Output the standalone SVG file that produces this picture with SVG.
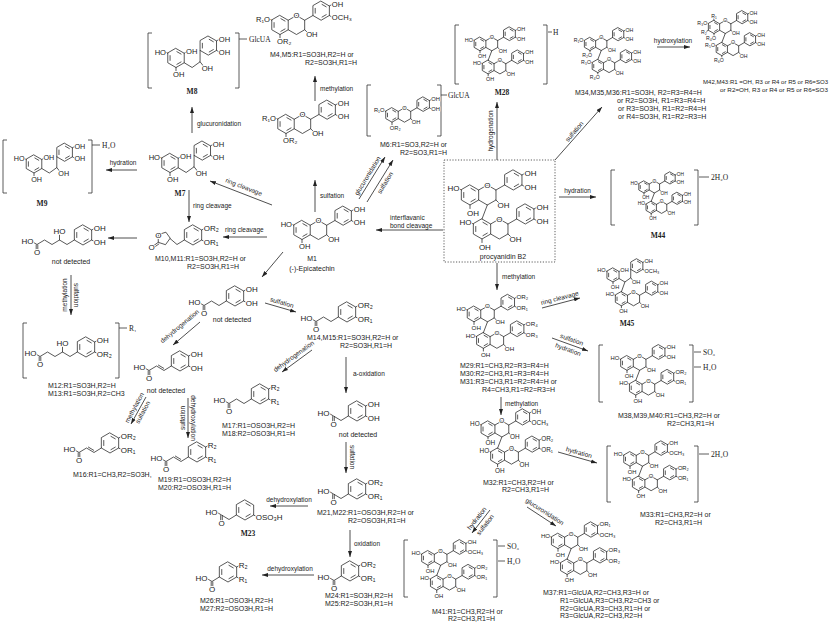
<svg xmlns="http://www.w3.org/2000/svg" width="839" height="624" viewBox="0 0 839 624">
<defs>
<style>
.b{fill:none;stroke:#222;stroke-width:0.75;vector-effect:non-scaling-stroke;stroke-linecap:round;stroke-linejoin:round}
.a{font-family:"Liberation Sans","DejaVu Sans",Arial,sans-serif;font-size:8px;fill:#222;paint-order:stroke;stroke:#fff;stroke-width:2px;stroke-linejoin:round}
.l{font-family:"Liberation Sans","DejaVu Sans",Arial,sans-serif;font-size:7px;fill:#222}
.r{font-family:"Liberation Sans","DejaVu Sans",Arial,sans-serif;font-size:6.5px;fill:#222}
.id{font-family:"Liberation Serif","DejaVu Serif",serif;font-size:7.5px;font-weight:bold;fill:#222}
.s{font-family:"Liberation Serif","DejaVu Serif",serif;font-size:7.5px;fill:#222}
.c{fill:none;stroke:#222;stroke-width:0.8;marker-end:url(#ah)}
.k{fill:none;stroke:#333;stroke-width:0.8}
</style>
<marker id="ah" viewBox="0 0 8 6" refX="8" refY="3" markerWidth="6" markerHeight="4.5" orient="auto" markerUnits="userSpaceOnUse"><path d="M0,0.3L8,3L0,5.7Z" fill="#222"/></marker>
<g id="bz"><path class="b" d="M0,-10L8.66,-5L8.66,5L0,10L-8.66,5L-8.66,-5Z M0.94,-6.66L5.3,-4.14 M5.3,4.14L0.94,6.66 M-6.24,2.52L-6.24,-2.52"/></g>
<g id="fl"><use href="#bz"/><use href="#bz" x="43.3" y="-15"/><path class="b" d="M8.66,-5L17.32,-10L25.98,-5L25.98,5L17.32,10L8.66,5 M25.98,-5L34.64,-10 M51.96,-20L55,-21.8 M51.96,-10L55,-8.2 M25.98,5L29,8 M0,10L0,13.5 M-8.66,-5L-11.5,-6.7"/></g>
<g id="dm"><use href="#fl"/><use href="#fl" x="12" y="34"/><path class="b" d="M17.32,10L12,24"/></g>
<g id="ro"><use href="#bz"/><use href="#bz" x="34" y="-13"/><path class="b" d="M8.66,5L17,10L25.34,4L25.34,-8 M25.34,4L28.5,8 M8.66,-5L11.5,-6.7 M0,10L0,13.5 M-8.66,-5L-11.5,-6.7 M42.66,-18L46,-20 M42.66,-8L46,-6"/></g>
<path id="sb" class="b" d="M8.66,-5L11.5,-6.7 M8.66,5L11.5,6.7"/>
<g id="pa"><use href="#bz"/><path class="b" d="M-8.66,5L-16,9.5L-23.5,5L-31,9.5L-36,6.5 M-31.8,10L-31.8,15.5 M-30.2,10L-30.2,15.5"/></g>
<g id="ca"><use href="#bz"/><path class="b" d="M-8.66,5L-16,9.5L-23.5,5L-31,9.5L-36,6.5 M-31.8,10L-31.8,15.5 M-30.2,10L-30.2,15.5 M-16.3,7.3L-21.6,4.1"/></g>
<g id="aa"><use href="#bz"/><path class="b" d="M-8.66,5L-16,9.5L-23.5,5L-28.5,2 M-24.3,5.5L-24.3,12 M-22.7,5.5L-22.7,12"/></g>
<g id="ba"><use href="#bz"/><path class="b" d="M-8.66,5L-16,9.5L-21.5,6.3 M-16.8,10L-16.8,16 M-15.2,10L-15.2,16"/></g>
<g id="va"><use href="#bz"/><path class="b" d="M-8.66,5L-16,9.5L-23.5,5L-31,9.5L-38.5,5L-46,9.5L-51,6.5 M-23.5,5L-23.5,0 M-46.8,10L-46.8,15.5 M-45.2,10L-45.2,15.5"/></g>
<g id="lac"><use href="#bz"/><path class="b" d="M-8.66,5L-16,9.5L-23,3.5 M-23,3.5L-27.49,9.68L-34.76,7.32L-34.76,-0.32L-27.49,-2.68Z M-34.76,7.32L-39.4,10.7 M-34.2,9L-38.6,12.2"/></g>
</defs>
<rect width="839" height="624" fill="#fff"/>

<g id="connectors">
<path class="c" d="M192,133V107"/>
<path class="c" d="M137,170H106"/>
<path class="c" d="M272,205L210,181"/>
<path class="c" d="M189,190V222"/>
<path class="c" d="M267,237H223"/>
<path class="c" d="M137,238H108"/>
<path class="c" d="M71,275V315"/>
<path class="c" d="M283,252L262,277"/>
<path class="c" d="M265,303L296,312"/>
<path class="c" d="M200,322L173,345"/>
<path class="c" d="M146,397L131,424"/>
<path class="c" d="M188,398V438"/>
<path class="c" d="M312,350L282,372"/>
<path class="c" d="M346,357V393"/>
<path class="c" d="M346,442V473"/>
<path class="c" d="M308,506H270"/>
<path class="c" d="M350,530V557"/>
<path class="c" d="M314,575H262"/>
<path class="c" d="M315,212V180"/>
<path class="c" d="M315,101V76"/>
<path class="c" d="M359,199L385,157"/>
<path class="c" d="M367,202L393,160"/>
<path class="c" d="M443,230H376"/>
<path class="c" d="M497,160V102"/>
<path class="c" d="M555,160L602,107"/>
<path class="c" d="M657,47H690"/>
<path class="c" d="M559,197H596"/>
<path class="c" d="M497,263V290"/>
<path class="c" d="M542,308L580,298"/>
<path class="c" d="M552,338L588,351"/>
<path class="c" d="M501,397V415"/>
<path class="c" d="M558,452L597,463"/>
<path class="c" d="M527,507L556,526"/>
<path class="c" d="M490,510L472,533"/>
<text class="r" x="197" y="126">glucuronidation</text>
<text class="r" x="123" y="165" text-anchor="middle">hydration</text>
<text class="r" transform="translate(243,189) rotate(21)" text-anchor="middle">ring cleavage</text>
<text class="r" x="193" y="208">ring cleavage</text>
<text class="r" x="225" y="232">ring cleavage</text>
<text class="r" transform="translate(67,295) rotate(-90)" text-anchor="middle">methylation</text>
<text class="r" transform="translate(74,295) rotate(90)" text-anchor="middle">sulfation</text>
<text class="r" transform="translate(281.3,304.6) rotate(16)" text-anchor="middle">sulfation</text>
<text class="r" transform="translate(181,328) rotate(-40)" text-anchor="middle">dehydrogenation</text>
<text class="r" transform="translate(136.3,408.8) rotate(-62)" text-anchor="middle">methylation</text>
<text class="r" transform="translate(144.7,413.3) rotate(-62)" text-anchor="middle">sulfation</text>
<text class="r" transform="translate(185,418) rotate(-90)" text-anchor="middle">sulfation</text>
<text class="r" transform="translate(191,418) rotate(90)" text-anchor="middle">dehydroxylation</text>
<text class="r" transform="translate(295,358) rotate(-36)" text-anchor="middle">dehydrogenation</text>
<text class="r" x="353" y="376">a-oxidation</text>
<text class="r" transform="translate(350,457) rotate(90)" text-anchor="middle">sulfation</text>
<text class="r" x="289" y="502" text-anchor="middle">dehydroxylation</text>
<text class="r" x="354" y="546">oxidation</text>
<text class="r" x="290" y="571" text-anchor="middle">dehydroxylation</text>
<text class="r" x="320" y="198">sulfation</text>
<text class="r" x="320" y="91">methylation</text>
<text class="r" transform="translate(369.4,177) rotate(-58.5)" text-anchor="middle">glucuronidation</text>
<text class="r" transform="translate(387,184) rotate(-58.5)" text-anchor="middle">sulfation</text>
<text class="r" x="390" y="220">interflavanic</text>
<text class="r" x="390" y="227.5">bond cleavage</text>
<text class="r" transform="translate(493,131) rotate(-90)" text-anchor="middle">hydrogenation</text>
<text class="r" transform="translate(576,133) rotate(-50)" text-anchor="middle">sulfation</text>
<text class="r" x="673" y="43" text-anchor="middle">hydroxylation</text>
<text class="r" x="577.5" y="193" text-anchor="middle">hydration</text>
<text class="r" x="502" y="279">methylation</text>
<text class="r" transform="translate(560.2,300.1) rotate(-14.7)" text-anchor="middle">ring cleavage</text>
<text class="r" transform="translate(571,341.7) rotate(19.9)" text-anchor="middle">sulfation</text>
<text class="r" transform="translate(567.4,351.6) rotate(19.9)" text-anchor="middle">hydration</text>
<text class="r" x="505" y="406">methylation</text>
<text class="r" transform="translate(578.3,454.6) rotate(15.75)" text-anchor="middle">hydration</text>
<text class="r" transform="translate(543.5,513.5) rotate(33.2)" text-anchor="middle">glucuronidation</text>
<text class="r" transform="translate(478.6,519.7) rotate(-52)" text-anchor="middle">hydration</text>
<text class="r" transform="translate(486.9,526.1) rotate(-52)" text-anchor="middle">sulfation</text>
</g>

<g id="procyanidinB2">
<rect x="444" y="160" width="111" height="102" fill="none" stroke="#333" stroke-width="0.8" stroke-dasharray="1.2,1.6"/>
<g transform="translate(470,195)"><use href="#dm"/>
<text class="a" x="-10.5" y="-3.6" text-anchor="end">HO</text><text class="a" x="17.32" y="-7.1" text-anchor="middle">O</text><text class="a" x="54.5" y="-19.1">OH</text><text class="a" x="54.5" y="-5.1">OH</text><text class="a" x="27.5" y="13">OH</text><text class="a" x="-3.1" y="20.5">OH</text>
<text class="a" x="1.5" y="30.4" text-anchor="end">HO</text><text class="a" x="29.32" y="26.9" text-anchor="middle">O</text><text class="a" x="66.5" y="14.9">OH</text><text class="a" x="66.5" y="28.9">OH</text><text class="a" x="39.5" y="47">OH</text><text class="a" x="8.9" y="54.5">OH</text>
</g>
<text class="l" x="503" y="258.5" text-anchor="middle">procyanidin B2</text>
</g>

<g id="M28">
<path class="k" d="M459,25H455V84H459 M543,25H547V84H543 M548,32H552"/>
<g transform="translate(480,44) scale(0.68)"><use href="#dm"/>
<text class="a" x="-10.5" y="-3.6" text-anchor="end">HO</text><text class="a" x="17.32" y="-7.1" text-anchor="middle">O</text><text class="a" x="54.5" y="-19.1">OH</text><text class="a" x="54.5" y="-5.1">OH</text><text class="a" x="27.5" y="13">OH</text><text class="a" x="-3.1" y="20.5">OH</text>
<text class="a" x="1.5" y="30.4" text-anchor="end">HO</text><text class="a" x="29.32" y="26.9" text-anchor="middle">O</text><text class="a" x="66.5" y="14.9">OH</text><text class="a" x="66.5" y="28.9">OH</text><text class="a" x="39.5" y="47">OH</text><text class="a" x="8.9" y="54.5">OH</text>
</g>
<text class="s" x="553" y="35">H</text>
<text class="id" x="502" y="95" text-anchor="middle">M28</text>
</g>

<g id="M34_M35_M36">
<g transform="translate(590,44) scale(0.65)"><use href="#dm"/>
<text class="a" x="-10.5" y="-3.6" text-anchor="end">R₁O</text><text class="a" x="17.32" y="-7.1" text-anchor="middle">O</text><text class="a" x="54.5" y="-19.1">OH</text><text class="a" x="54.5" y="-5.1">OH</text><text class="a" x="27.5" y="13">OH</text><text class="a" x="3.1" y="20.5" text-anchor="end">R₂O</text>
<text class="a" x="1.5" y="30.4" text-anchor="end">R₃O</text><text class="a" x="29.32" y="26.9" text-anchor="middle">O</text><text class="a" x="66.5" y="14.9">OH</text><text class="a" x="66.5" y="28.9">OH</text><text class="a" x="39.5" y="47">OH</text><text class="a" x="15" y="54.5" text-anchor="end">R₄O</text>
</g>
<text class="l" x="575" y="95">M34,M35,M36:R1=SO3H, R2=R3=R4=H</text>
<text class="l" x="617" y="103">or R2=SO3H, R1=R3=R4=H</text>
<text class="l" x="618" y="111">or R3=SO3H, R1=R2=R4=H</text>
<text class="l" x="618" y="119">or R4=SO3H, R1=R2=R3=H</text>
</g>

<g id="M42_M43">
<g transform="translate(714,27) scale(0.65)"><use href="#dm"/>
<path class="b" d="M0,-10L0,-13 M-8.66,5L-11.5,6.7"/>
<text class="a" x="-10.5" y="-3.6" text-anchor="end">R₃O</text><text class="a" x="0" y="-14" text-anchor="middle">R₁</text><text class="a" x="-11" y="10" text-anchor="end">R₂</text><text class="a" x="17.32" y="-7.1" text-anchor="middle">O</text><text class="a" x="54.5" y="-19.1">OH</text><text class="a" x="54.5" y="-5.1">OH</text><text class="a" x="27.5" y="13">OH</text><text class="a" x="3.1" y="20.5" text-anchor="end">R₄O</text>
<text class="a" x="1.5" y="30.4" text-anchor="end">R₅O</text><text class="a" x="29.32" y="26.9" text-anchor="middle">O</text><text class="a" x="66.5" y="14.9">OH</text><text class="a" x="66.5" y="28.9">OH</text><text class="a" x="39.5" y="47">OH</text><text class="a" x="15" y="54.5" text-anchor="end">R₆O</text>
</g>
<text class="l" x="703" y="84" style="font-size:6.2px" textLength="125" lengthAdjust="spacingAndGlyphs">M42,M43:R1 =OH, R3 or R4 or R5 or R6=SO3</text>
<text class="l" x="720" y="92" style="font-size:6.2px" textLength="108" lengthAdjust="spacingAndGlyphs">or R2=OH, R3 or R4 or R5 or R6=SO3</text>
</g>

<g id="M44">
<path class="k" d="M615,170H611V225H615 M694,170H698V225H694 M699,177H709"/>
<g transform="translate(644,187) scale(0.6)"><use href="#dm"/>
<text class="a" x="-10.5" y="-3.6" text-anchor="end">HO</text><text class="a" x="17.32" y="-7.1" text-anchor="middle">O</text><text class="a" x="54.5" y="-19.1">OH</text><text class="a" x="54.5" y="-5.1">OH</text><text class="a" x="27.5" y="13">OH</text><text class="a" x="-3.1" y="20.5">OH</text>
<text class="a" x="1.5" y="30.4" text-anchor="end">HO</text><text class="a" x="29.32" y="26.9" text-anchor="middle">O</text><text class="a" x="66.5" y="14.9">OH</text><text class="a" x="66.5" y="28.9">OH</text><text class="a" x="39.5" y="47">OH</text><text class="a" x="8.9" y="54.5">OH</text>
</g>
<text class="s" x="711" y="180">2H₂O</text>
<text class="id" x="658" y="238" text-anchor="middle">M44</text>
</g>

<g id="M29_M30_M31">
<g transform="translate(474,314) scale(0.78)"><use href="#dm"/>
<text class="a" x="-10.5" y="-3.6" text-anchor="end">HO</text><text class="a" x="17.32" y="-7.1" text-anchor="middle">O</text><text class="a" x="54.5" y="-19.1">OR₂</text><text class="a" x="54.5" y="-5.1">OR₁</text><text class="a" x="27.5" y="13">OH</text><text class="a" x="-3.1" y="20.5">OH</text>
<text class="a" x="1.5" y="30.4" text-anchor="end">HO</text><text class="a" x="29.32" y="26.9" text-anchor="middle">O</text><text class="a" x="66.5" y="14.9">OR₄</text><text class="a" x="66.5" y="28.9">OR₃</text><text class="a" x="39.5" y="47">OH</text><text class="a" x="8.9" y="54.5">OH</text>
</g>
<text class="l" x="460" y="368">M29:R1=CH3,R2=R3=R4=H</text>
<text class="l" x="460" y="376">M30:R2=CH3,R1=R3=R4=H</text>
<text class="l" x="460" y="384">M31:R3=CH3,R1=R2=R4=H or</text>
<text class="l" x="482" y="392">R4=CH3,R1=R2=R3=H</text>
</g>

<g id="M45">
<g transform="translate(613,275) scale(0.7)"><use href="#ro"/><use href="#fl" x="12" y="34"/><path class="b" d="M17,10L12,24"/>
<text class="a" x="-10.5" y="-3.6" text-anchor="end">HO</text><text class="a" x="10.5" y="-4.1">OH</text><text class="a" x="27" y="13.5">OH</text><text class="a" x="-3.1" y="20.5">OH</text><text class="a" x="45" y="-17.1">OH</text><text class="a" x="45" y="-3.1">OCH₃</text>
<text class="a" x="1.5" y="30.4" text-anchor="end">HO</text><text class="a" x="29.32" y="26.9" text-anchor="middle">O</text><text class="a" x="66.5" y="14.9">OH</text><text class="a" x="66.5" y="28.9">OH</text><text class="a" x="39.5" y="47">OH</text><text class="a" x="8.9" y="54.5">OH</text>
</g>
<text class="id" x="627" y="326" text-anchor="middle">M45</text>
</g>

<g id="M38_M39_M40">
<path class="k" d="M603,345H599V402H603 M689,345H693V402H689 M694,352H701 M694,367H701"/>
<g transform="translate(627,363) scale(0.73)"><use href="#dm"/>
<text class="a" x="-10.5" y="-3.6" text-anchor="end">HO</text><text class="a" x="17.32" y="-7.1" text-anchor="middle">O</text><text class="a" x="54.5" y="-19.1">OH</text><text class="a" x="54.5" y="-5.1">OH</text><text class="a" x="27.5" y="13">OH</text><text class="a" x="-3.1" y="20.5">OH</text>
<text class="a" x="1.5" y="30.4" text-anchor="end">HO</text><text class="a" x="29.32" y="26.9" text-anchor="middle">O</text><text class="a" x="66.5" y="14.9">OR₂</text><text class="a" x="66.5" y="28.9">OR₁</text><text class="a" x="39.5" y="47">OH</text><text class="a" x="8.9" y="54.5">OH</text>
</g>
<text class="s" x="703" y="355">SO₃</text>
<text class="s" x="703" y="370">H₂O</text>
<text class="l" x="618" y="418">M38,M39,M40:R1=CH3,R2=H or</text>
<text class="l" x="667" y="426">R2=CH3,R1=H</text>
</g>

<g id="M32">
<g transform="translate(488,429) scale(0.8)"><use href="#dm"/>
<text class="a" x="-10.5" y="-3.6" text-anchor="end">HO</text><text class="a" x="17.32" y="-7.1" text-anchor="middle">O</text><text class="a" x="54.5" y="-19.1">OH</text><text class="a" x="54.5" y="-5.1">OCH₃</text><text class="a" x="27.5" y="13">OH</text><text class="a" x="-3.1" y="20.5">OH</text>
<text class="a" x="1.5" y="30.4" text-anchor="end">HO</text><text class="a" x="29.32" y="26.9" text-anchor="middle">O</text><text class="a" x="66.5" y="14.9">OR₂</text><text class="a" x="66.5" y="28.9">OR₁</text><text class="a" x="39.5" y="47">OH</text><text class="a" x="8.9" y="54.5">OH</text>
</g>
<text class="l" x="483" y="485">M32:R1=CH3,R2=H or</text>
<text class="l" x="502" y="492">R2=CH3,R1=H</text>
</g>

<g id="M33">
<path class="k" d="M611,446H607V502H611 M694,446H698V502H694 M699,454H709"/>
<g transform="translate(630,459) scale(0.72)"><use href="#dm"/>
<text class="a" x="-10.5" y="-3.6" text-anchor="end">HO</text><text class="a" x="17.32" y="-7.1" text-anchor="middle">O</text><text class="a" x="54.5" y="-19.1">OH</text><text class="a" x="54.5" y="-5.1">OCH₃</text><text class="a" x="27.5" y="13">OH</text><text class="a" x="-3.1" y="20.5">OH</text>
<text class="a" x="1.5" y="30.4" text-anchor="end">HO</text><text class="a" x="29.32" y="26.9" text-anchor="middle">O</text><text class="a" x="66.5" y="14.9">OR₂</text><text class="a" x="66.5" y="28.9">OR₁</text><text class="a" x="39.5" y="47">OH</text><text class="a" x="8.9" y="54.5">OH</text>
</g>
<text class="s" x="711" y="457">2H₂O</text>
<text class="l" x="640" y="517">M33:R1=CH3,R2=H or</text>
<text class="l" x="655" y="525">R2=CH3,R1=H</text>
</g>

<g id="M37">
<g transform="translate(558,541) scale(0.76)"><use href="#dm"/>
<text class="a" x="-10.5" y="-3.6" text-anchor="end">HO</text><text class="a" x="17.32" y="-7.1" text-anchor="middle">O</text><text class="a" x="54.5" y="-19.1">OR₁</text><text class="a" x="54.5" y="-5.1">OCH₃</text><text class="a" x="27.5" y="13">OH</text><text class="a" x="-3.1" y="20.5">OH</text>
<text class="a" x="1.5" y="30.4" text-anchor="end">HO</text><text class="a" x="29.32" y="26.9" text-anchor="middle">O</text><text class="a" x="66.5" y="14.9">OR₃</text><text class="a" x="66.5" y="28.9">OR₂</text><text class="a" x="39.5" y="47">OH</text><text class="a" x="8.9" y="54.5">OH</text>
</g>
<text class="l" x="543" y="595">M37:R1=GlcUA,R2=CH3,R3=H or</text>
<text class="l" x="560" y="603">R1=GlcUA,R3=CH3,R2=CH3 or</text>
<text class="l" x="560" y="610.5">R2=GlcUA,R3=CH3,R1=H or</text>
<text class="l" x="560" y="618">R3=GlcUA,R2=CH3,R2=H</text>
</g>

<g id="M41">
<path class="k" d="M408,540H404V597H408 M493,540H497V597H493 M498,546H505 M498,561H505"/>
<g transform="translate(428,558) scale(0.73)"><use href="#dm"/>
<text class="a" x="-10.5" y="-3.6" text-anchor="end">HO</text><text class="a" x="17.32" y="-7.1" text-anchor="middle">O</text><text class="a" x="54.5" y="-19.1">OH</text><text class="a" x="54.5" y="-5.1">OCH₃</text><text class="a" x="27.5" y="13">OH</text><text class="a" x="-3.1" y="20.5">OH</text>
<text class="a" x="1.5" y="30.4" text-anchor="end">HO</text><text class="a" x="29.32" y="26.9" text-anchor="middle">O</text><text class="a" x="66.5" y="14.9">OR₂</text><text class="a" x="66.5" y="28.9">OR₁</text><text class="a" x="39.5" y="47">OH</text><text class="a" x="8.9" y="54.5">OH</text>
</g>
<text class="s" x="507" y="549">SO₃</text>
<text class="s" x="507" y="564">H₂O</text>
<text class="l" x="432" y="614">M41:R1=CH3,R2=H or</text>
<text class="l" x="448" y="621">R2=CH3,R1=H</text>
</g>

<g id="M1">
<g transform="translate(302,230) scale(0.95)"><use href="#fl"/>
<text class="a" x="-10.5" y="-3.6" text-anchor="end">HO</text><text class="a" x="17.32" y="-7.1" text-anchor="middle">O</text><text class="a" x="54.5" y="-19.1">OH</text><text class="a" x="54.5" y="-5.1">OH</text><text class="a" x="27.5" y="13">OH</text><text class="a" x="-3.1" y="20.5">OH</text>
</g>
<text class="l" x="312" y="261" text-anchor="middle">M1</text>
<text class="l" x="312" y="271" text-anchor="middle">(-)-Epicatechin</text>
</g>

<g id="sulfated_epicatechin">
<g transform="translate(286,124) scale(0.95)"><use href="#fl"/>
<text class="a" x="-10.5" y="-3.6" text-anchor="end">R₁O</text><text class="a" x="17.32" y="-7.1" text-anchor="middle">O</text><text class="a" x="54.5" y="-19.1">OH</text><text class="a" x="54.5" y="-5.1">OH</text><text class="a" x="27.5" y="13">OH</text><text class="a" x="-3.1" y="20.5">OR₂</text>
</g>
</g>

<g id="M4_M5">
<g transform="translate(280,25) scale(0.95)"><use href="#fl"/>
<text class="a" x="-10.5" y="-3.6" text-anchor="end">R₁O</text><text class="a" x="17.32" y="-7.1" text-anchor="middle">O</text><text class="a" x="54.5" y="-19.1">OH</text><text class="a" x="54.5" y="-5.1">OCH₃</text><text class="a" x="27.5" y="13">OH</text><text class="a" x="-3.1" y="20.5">OR₂</text>
</g>
<text class="l" x="270" y="57">M4,M5:R1=SO3H,R2=H or</text>
<text class="l" x="305" y="65">R2=SO3H,R1=H</text>
</g>

<g id="M6">
<path class="k" d="M371,85H367V136H371 M437,85H441V136H437 M441,95H447"/>
<g transform="translate(392,115) scale(0.72)"><use href="#fl"/>
<text class="a" x="-10.5" y="-3.6" text-anchor="end">R₁O</text><text class="a" x="17.32" y="-7.1" text-anchor="middle">O</text><text class="a" x="54.5" y="-19.1">OH</text><text class="a" x="54.5" y="-5.1">OH</text><text class="a" x="27.5" y="13">OH</text><text class="a" x="-3.1" y="20.5">OR₂</text>
</g>
<text class="s" x="448" y="98">GlcUA</text>
<text class="l" x="380" y="147">M6:R1=SO3,R2=H or</text>
<text class="l" x="400" y="155">R2=SO3,R1=H</text>
</g>

<g id="M7">
<g transform="translate(170,163) scale(0.95)"><use href="#ro"/>
<text class="a" x="-10.5" y="-3.6" text-anchor="end">HO</text><text class="a" x="10.5" y="-4.1">OH</text><text class="a" x="27" y="13.5">OH</text><text class="a" x="-3.1" y="20.5">OH</text><text class="a" x="45" y="-17.1">OH</text><text class="a" x="45" y="-3.1">OH</text>
</g>
<text class="id" x="180" y="196" text-anchor="middle">M7</text>
</g>

<g id="M8">
<path class="k" d="M152,33H148V88H152 M235,33H239V88H235 M239,39H247"/>
<g transform="translate(176,58) scale(0.95)"><use href="#ro"/>
<text class="a" x="-10.5" y="-3.6" text-anchor="end">HO</text><text class="a" x="10.5" y="-4.1">OH</text><text class="a" x="27" y="13.5">OH</text><text class="a" x="-3.1" y="20.5">OH</text><text class="a" x="45" y="-17.1">OH</text><text class="a" x="45" y="-3.1">OH</text>
</g>
<text class="s" x="249" y="42">GlcUA</text>
<text class="id" x="192" y="94" text-anchor="middle">M8</text>
</g>

<g id="M9">
<path class="k" d="M7,140H3V193H7 M88,140H92V193H88 M92,145H100"/>
<g transform="translate(34,164) scale(0.9)"><use href="#ro"/>
<text class="a" x="-10.5" y="-3.6" text-anchor="end">HO</text><text class="a" x="10.5" y="-4.1">OH</text><text class="a" x="27" y="13.5">OH</text><text class="a" x="-3.1" y="20.5">OH</text><text class="a" x="45" y="-17.1">OH</text><text class="a" x="45" y="-3.1">OH</text>
</g>
<text class="s" x="102" y="148">H₂O</text>
<text class="id" x="42" y="206" text-anchor="middle">M9</text>
</g>

<g id="M10_M11">
<g transform="translate(193,235)"><use href="#lac"/><use href="#sb"/>
<text class="a" x="-34.76" y="2.6" text-anchor="middle">O</text><text class="a" x="-41.5" y="14.6" text-anchor="middle">O</text><text class="a" x="10.8" y="-3.8">OR₂</text><text class="a" x="10.8" y="9.6">OR₁</text>
</g>
<text class="l" x="155" y="261">M10,M11:R1=SO3H,R2=H or</text>
<text class="l" x="187" y="269">R2=SO3H,R1=H</text>
</g>

<g id="hydroxyvaleric_acid">
<g transform="translate(83,235)"><use href="#va"/><use href="#sb"/>
<text class="a" x="-23.5" y="-0.8" text-anchor="middle">HO</text><text class="a" x="-49.5" y="9.4" text-anchor="end">HO</text><text class="a" x="-46" y="19.9" text-anchor="middle">O</text><text class="a" x="10.8" y="-3.8">OH</text><text class="a" x="10.8" y="9.6">OH</text>
</g>
<text class="l" x="71" y="264" text-anchor="middle">not detected</text>
</g>

<g id="M12_M13">
<path class="k" d="M27,323H23V378H27 M115,323H119V378H115 M119,328H127"/>
<g transform="translate(86,347)"><use href="#va"/><use href="#sb"/>
<text class="a" x="-23.5" y="-0.8" text-anchor="middle">HO</text><text class="a" x="-49.5" y="9.4" text-anchor="end">HO</text><text class="a" x="-46" y="19.9" text-anchor="middle">O</text><text class="a" x="10.8" y="-3.8">OH</text><text class="a" x="10.8" y="9.6">OR₂</text>
</g>
<text class="s" x="129" y="331">R₁</text>
<text class="l" x="48" y="388">M12:R1=SO3H,R2=H</text>
<text class="l" x="48" y="396">M13:R1=SO3H,R2=CH3</text>
</g>

<g id="dihydroxyphenylpropionic_acid">
<g transform="translate(235,296)"><use href="#pa"/><use href="#sb"/>
<text class="a" x="-34.5" y="9.4" text-anchor="end">HO</text><text class="a" x="-31" y="19.9" text-anchor="middle">O</text><text class="a" x="10.8" y="-3.8">OH</text><text class="a" x="10.8" y="9.6">OH</text>
</g>
<text class="l" x="232" y="322" text-anchor="middle">not detected</text>
</g>

<g id="caffeic_acid">
<g transform="translate(180,361)"><use href="#ca"/><use href="#sb"/>
<text class="a" x="-34.5" y="9.4" text-anchor="end">HO</text><text class="a" x="-31" y="19.9" text-anchor="middle">O</text><text class="a" x="10.8" y="-3.8">OH</text><text class="a" x="10.8" y="9.6">OH</text>
</g>
<text class="l" x="166" y="393" text-anchor="middle">not detected</text>
</g>

<g id="M14_M15">
<g transform="translate(347,312)"><use href="#pa"/><use href="#sb"/>
<text class="a" x="-34.5" y="9.4" text-anchor="end">HO</text><text class="a" x="-31" y="19.9" text-anchor="middle">O</text><text class="a" x="10.8" y="-3.8">OR₂</text><text class="a" x="10.8" y="9.6">OR₁</text>
</g>
<text class="l" x="307" y="340">M14,M15:R1=SO3H,R2=H or</text>
<text class="l" x="340" y="348">R2=SO3H,R1=H</text>
</g>

<g id="M17_M18">
<g transform="translate(260,394)"><use href="#pa"/><use href="#sb"/>
<text class="a" x="-34.5" y="9.4" text-anchor="end">HO</text><text class="a" x="-31" y="19.9" text-anchor="middle">O</text><text class="a" x="10.8" y="-3.8">R₂</text><text class="a" x="10.8" y="9.6">R₁</text>
</g>
<text class="l" x="222" y="428">M17:R1=OSO3H,R2=H</text>
<text class="l" x="222" y="436">M18:R2=OSO3H,R1=H</text>
</g>

<g id="dihydroxyphenylacetic_acid">
<g transform="translate(357,411)"><use href="#aa"/><use href="#sb"/>
<text class="a" x="-27.5" y="4.9" text-anchor="end">HO</text><text class="a" x="-23.5" y="16.2" text-anchor="middle">O</text><text class="a" x="10.8" y="-3.8">OH</text><text class="a" x="10.8" y="9.6">OH</text>
</g>
<text class="l" x="358" y="437" text-anchor="middle">not detected</text>
</g>

<g id="M16">
<g transform="translate(110,443)"><use href="#ca"/><use href="#sb"/>
<text class="a" x="-34.5" y="9.4" text-anchor="end">HO</text><text class="a" x="-31" y="19.9" text-anchor="middle">O</text><text class="a" x="10.8" y="-3.8">OR₂</text><text class="a" x="10.8" y="9.6">OR₁</text>
</g>
<text class="l" x="73" y="477">M16:R1=CH3,R2=SO3H,</text>
</g>

<g id="M19_M20">
<g transform="translate(197,452)"><use href="#ca"/><use href="#sb"/>
<text class="a" x="-34.5" y="9.4" text-anchor="end">HO</text><text class="a" x="-31" y="19.9" text-anchor="middle">O</text><text class="a" x="10.8" y="-3.8">R₂</text><text class="a" x="10.8" y="9.6">R₁</text>
</g>
<text class="l" x="158" y="482">M19:R1=OSO3H,R2=H</text>
<text class="l" x="158" y="490">M20:R2=OSO3H,R1=H</text>
</g>

<g id="M21_M22">
<g transform="translate(357,489)"><use href="#aa"/><use href="#sb"/>
<text class="a" x="-27.5" y="4.9" text-anchor="end">HO</text><text class="a" x="-23.5" y="16.2" text-anchor="middle">O</text><text class="a" x="10.8" y="-3.8">OR₂</text><text class="a" x="10.8" y="9.6">OR₁</text>
</g>
<text class="l" x="317" y="515">M21,M22:R1=OSO3H,R2=H or</text>
<text class="l" x="348" y="523">R2=OSO3H,R1=H</text>
</g>

<g id="M23">
<g transform="translate(245,510)"><use href="#aa"/><path class="b" d="M8.66,5L11.5,6.7"/>
<text class="a" x="-27.5" y="4.9" text-anchor="end">HO</text><text class="a" x="-23.5" y="16.2" text-anchor="middle">O</text><text class="a" x="10.8" y="9.6">OSO₃H</text>
</g>
<text class="id" x="248" y="536" text-anchor="middle">M23</text>
</g>

<g id="M24_M25">
<g transform="translate(350,571)"><use href="#ba"/><use href="#sb"/>
<text class="a" x="-20.5" y="9" text-anchor="end">HO</text><text class="a" x="-16" y="20.2" text-anchor="middle">O</text><text class="a" x="10.8" y="-3.8">OR₂</text><text class="a" x="10.8" y="9.6">OR₁</text>
</g>
<text class="l" x="325" y="598">M24:R1=SO3H,R2=H</text>
<text class="l" x="325" y="606">M25:R2=SO3H,R1=H</text>
</g>

<g id="M26_M27">
<g transform="translate(228,572)"><use href="#ba"/><use href="#sb"/>
<text class="a" x="-20.5" y="9" text-anchor="end">HO</text><text class="a" x="-16" y="20.2" text-anchor="middle">O</text><text class="a" x="10.8" y="-3.8">R₂</text><text class="a" x="10.8" y="9.6">R₁</text>
</g>
<text class="l" x="200" y="603">M26:R1=OSO3H,R2=H</text>
<text class="l" x="200" y="611">M27:R2=OSO3H,R1=H</text>
</g>
</svg>
